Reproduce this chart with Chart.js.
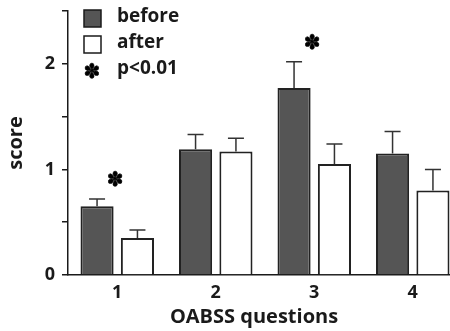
<!DOCTYPE html>
<html>
<head>
<meta charset="utf-8">
<script src="https://cdn.jsdelivr.net/npm/chart.js@4"></script>
<style>
  html, body { margin: 0; padding: 0; background: #fff; overflow: hidden; }
  #wrap { position: absolute; left: 0; top: 0; width: 462px; height: 331px; }
</style>
</head>
<body>
<div id="wrap"><canvas id="chart"></canvas></div>
<script>
const questions = ["1", "2", "3", "4"];
const before = [0.65, 1.19, 1.77, 1.15];
const after = [0.35, 1.17, 1.05, 0.80];
const beforeErr = [0.07, 0.14, 0.25, 0.21];
const afterErr = [0.075, 0.125, 0.19, 0.2];
const significant = [true, false, true, false];

const ink = "#1a1a1a";
const fontFamily = "'Open Sans', sans-serif";
const star = "\u273D";

// error bars + asterisks drawn from the bar elements
const errorBars = {
  id: "errorBars",
  afterDatasetsDraw(chart) {
    const ctx = chart.ctx;
    const y = chart.scales.y;
    const errs = [beforeErr, afterErr];
    ctx.save();
    ctx.strokeStyle = "#333";
    ctx.lineWidth = 1.5;
    chart.data.datasets.forEach((ds, di) => {
      chart.getDatasetMeta(di).data.forEach((bar, i) => {
        const top = y.getPixelForValue(ds.data[i] + errs[di][i]);
        ctx.beginPath();
        ctx.moveTo(bar.x, bar.y);
        ctx.lineTo(bar.x, top);
        ctx.moveTo(bar.x - 8, top);
        ctx.lineTo(bar.x + 8, top);
        ctx.stroke();
      });
    });
    ctx.fillStyle = "#000";
    ctx.strokeStyle = "#000";
    ctx.lineWidth = 0.6;
    ctx.font = "bold 20px 'DejaVu Sans'";
    ctx.textAlign = "center";
    ctx.textBaseline = "middle";
    const x = chart.scales.x;
    significant.forEach((s, i) => {
      if (!s) return;
      const top = y.getPixelForValue(Math.max(before[i] + beforeErr[i], after[i] + afterErr[i]));
      ctx.fillText(star, x.getPixelForValue(i) - 2, top - 18);
      ctx.strokeText(star, x.getPixelForValue(i) - 2, top - 18);
    });
    ctx.restore();
  }
};

// legend and x title
const extras = {
  id: "extras",
  afterDraw(chart) {
    const ctx = chart.ctx;
    ctx.save();
    ctx.lineWidth = 1.5;
    ctx.strokeStyle = ink;
    ctx.fillStyle = "#555";
    ctx.fillRect(84, 10, 17, 17);
    ctx.strokeRect(84, 10, 17, 17);
    ctx.fillStyle = "#fff";
    ctx.fillRect(84, 36, 17, 17);
    ctx.strokeRect(84, 36, 17, 17);

    ctx.fillStyle = ink;
    ctx.textBaseline = "middle";
    ctx.textAlign = "left";
    ctx.font = "bold 19px " + fontFamily;
    ctx.fillText("before", 117, 17);
    ctx.fillText("after", 117, 43);
    ctx.fillText("p<0.01", 117, 69);
    ctx.textAlign = "center";
    ctx.fillStyle = "#000";
    ctx.strokeStyle = "#000";
    ctx.lineWidth = 0.6;
    ctx.font = "bold 20px 'DejaVu Sans'";
    ctx.fillText(star, 92, 73);
    ctx.strokeText(star, 92, 73);

    ctx.fillStyle = ink;
    ctx.font = "bold 20px " + fontFamily;
    ctx.fillText("OABSS questions", 254, 317);
    ctx.restore();
  }
};

new Chart(document.getElementById("chart"), {
  type: "bar",
  data: {
    labels: questions,
    datasets: [
      { label: "before", data: before, backgroundColor: "#555", borderColor: "#222", borderWidth: 2 },
      { label: "after", data: after, backgroundColor: "#fff", borderColor: "#222", borderWidth: 2 }
    ]
  },
  options: {
    responsive: true,
    maintainAspectRatio: false,
    animation: false,
    categoryPercentage: 0.82,
    barPercentage: 0.82,
    layout: { padding: { top: 11, left: 0, right: 0, bottom: 0 } },
    plugins: { legend: { display: false }, tooltip: { enabled: false } },
    scales: {
      x: {
        grid: { display: true, drawOnChartArea: false, drawTicks: false },
        border: { display: true, color: ink, width: 1.5 },
        ticks: { color: ink, font: { family: fontFamily, size: 18, weight: "bold" }, padding: 7 },
        afterFit: (s) => { s.height = 56; }
      },
      y: {
        min: 0,
        max: 2.5,
        grid: { display: true, drawOnChartArea: false, drawTicks: true, tickLength: 6, color: ink, lineWidth: 1.5 },
        border: { display: true, color: ink, width: 1.5 },
        ticks: {
          stepSize: 0.5,
          color: ink,
          padding: 7,
          font: { family: fontFamily, size: 18, weight: "bold" },
          callback: (v) => (Number.isInteger(v) ? v : "")
        },
        title: {
          display: true,
          text: "score",
          color: ink,
          font: { family: fontFamily, size: 20, weight: "bold" },
          padding: { top: 4, bottom: 0 }
        },
        afterFit: (s) => {
          s.width = 68;
          s.paddingTop = 0;
          s.paddingBottom = 0;
        }
      }
    }
  },
  plugins: [errorBars, extras]
});
</script>
</body>
</html>
